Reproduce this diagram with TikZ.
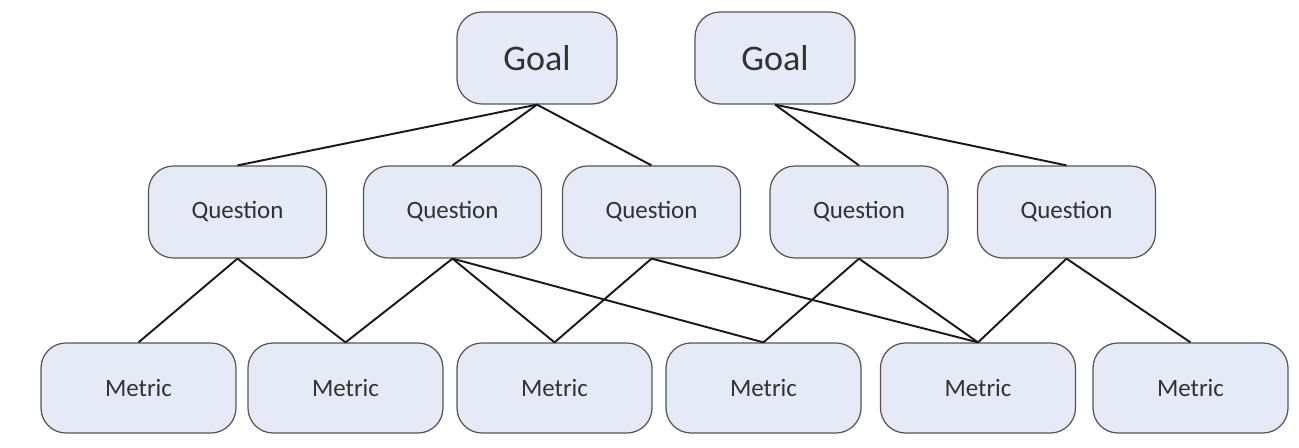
\documentclass[tikz,border=0pt]{standalone}
\usepackage{fontspec}
\setmainfont{Carlito}
\definecolor{boxfill}{RGB}{229,234,246}
\definecolor{boxline}{RGB}{85,85,85}
\definecolor{boxtext}{RGB}{50,50,50}
\tikzset{
    gqmbox/.style={draw=boxline, line width=0.7pt, fill=boxfill, rounded corners=0.5cm,
        text=boxtext, inner sep=0pt, align=center},
    goalbox/.style={gqmbox, minimum width=3.2cm, minimum height=1.84cm, font=\fontsize{20.5}{24}\selectfont},
    questionbox/.style={gqmbox, minimum width=3.56cm, minimum height=1.84cm, font=\fontsize{14.2}{17}\selectfont},
    metricbox/.style={gqmbox, minimum width=3.9cm, minimum height=1.8cm, font=\fontsize{14.2}{17}\selectfont},
    link/.style={line width=1.1pt, black!90}
}
\begin{document}
\begin{tikzpicture}
    \useasboundingbox (0,0) rectangle (25.98,8.94);

    % Goals
    \node[goalbox] (g1) at (10.74, 7.78) {Goal};
    \node[goalbox] (g2) at (15.50, 7.78) {Goal};

    % Questions
    \node[questionbox] (q1) at (4.75, 4.70) {Question};
    \node[questionbox] (q2) at (9.05, 4.70) {Question};
    \node[questionbox] (q3) at (13.03, 4.70) {Question};
    \node[questionbox] (q4) at (17.18, 4.70) {Question};
    \node[questionbox] (q5) at (21.33, 4.70) {Question};

    % Metrics
    \node[metricbox] (m1) at (2.77, 1.18) {Metric};
    \node[metricbox] (m2) at (6.91, 1.18) {Metric};
    \node[metricbox] (m3) at (11.09, 1.18) {Metric};
    \node[metricbox] (m4) at (15.27, 1.18) {Metric};
    \node[metricbox] (m5) at (19.56, 1.18) {Metric};
    \node[metricbox] (m6) at (23.81, 1.18) {Metric};

    % Goal to question links
    \foreach \q in {q1, q2, q3} {
        \draw[link] (g1.south) -- (\q.north);
    }
    \foreach \q in {q4, q5} {
        \draw[link] (g2.south) -- (\q.north);
    }

    % Question to metric links
    \foreach \q/\m in {q1/m1, q1/m2, q2/m2, q2/m3, q2/m4, q3/m3, q3/m5, q4/m4, q4/m5, q5/m5, q5/m6} {
        \draw[link] (\q.south) -- (\m.north);
    }

\end{tikzpicture}
\end{document}
